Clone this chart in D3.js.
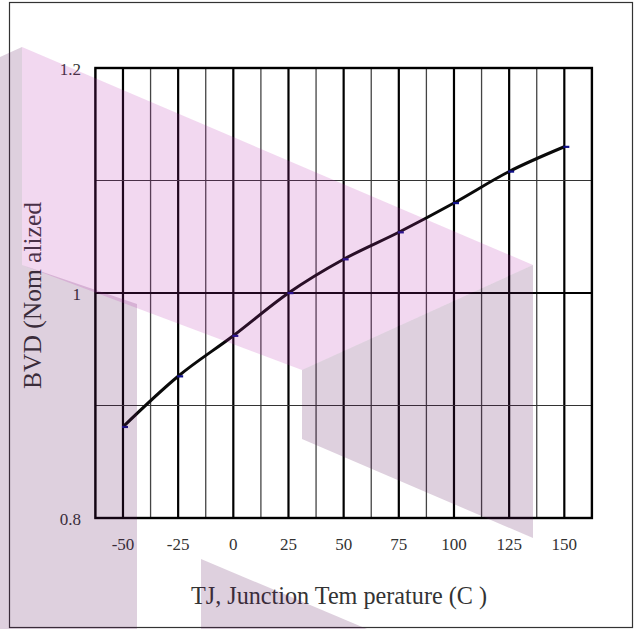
<!DOCTYPE html>
<html lang="en">
<meta charset="utf-8">
<title>BVD vs Junction Temperature</title>
<style>
	body { margin: 0; background: #fff; }
	svg { display: block; font-family: "Liberation Serif", "Times New Roman", serif; }
	.tick-label { fill: #333; font-size: 17px; }
	.axis-title { fill: #333; font-size: 26px; }
</style>
<body>
<script src="https://d3js.org/d3.v7.min.js"></script>
<svg class="chart"></svg>
<script>
	// data
	var temps = [-50, -25, 0, 25, 50, 75, 100, 125, 150];
	var bvd   = [0.881, 0.926, 0.962, 1.000, 1.030, 1.054, 1.080, 1.108, 1.130];
	var xTicks = [-50, -25, 0, 25, 50, 75, 100, 125, 150];
	var yTicks = [0.8, 1, 1.2];
	var yLabels = ["0.8", "1", "1.2"];

	var W = 635, H = 629;
	var svg = d3.select(".chart").attr("width", W).attr("height", H);

	var x = d3.scaleLinear().domain([-62.5, 162.5]).range([95.4, 591.9]);
	var y = d3.scaleLinear().domain([0.8, 1.2]).range([518, 68]);

	// outer border
	svg.append("rect")
		.attr("x", 9.5).attr("y", 2.5)
		.attr("width", 623).attr("height", 625)
		.attr("fill", "none").attr("stroke", "#333").attr("stroke-width", 1.2);

	var grid = svg.append("g");

	// vertical grid, every 12.5 degrees (thick on 25s)
	var vLines = d3.range(-62.5, 162.6, 12.5);
	grid.selectAll(".v")
		.data(vLines)
	  .enter().append("line")
		.attr("x1", function(d) { return x(d); })
		.attr("x2", function(d) { return x(d); })
		.attr("y1", y(1.2)).attr("y2", y(0.8))
		.attr("stroke", function(d) { return d % 25 === 0 ? "#000" : "#444"; })
		.attr("stroke-width", function(d) { return d % 25 === 0 ? 2.2 : 1.3; });

	// horizontal grid
	var hLines = [0.9, 1.0, 1.1];
	grid.selectAll(".h")
		.data(hLines)
	  .enter().append("line")
		.attr("x1", x(-62.5)).attr("x2", x(162.5))
		.attr("y1", function(d) { return y(d); })
		.attr("y2", function(d) { return y(d); })
		.attr("stroke", function(d) { return d === 1.0 ? "#000" : "#333"; })
		.attr("stroke-width", function(d) { return d === 1.0 ? 2.2 : 1.2; });

	// plot frame
	svg.append("rect")
		.attr("x", x(-62.5)).attr("y", y(1.2))
		.attr("width", x(162.5) - x(-62.5)).attr("height", y(0.8) - y(1.2))
		.attr("fill", "none").attr("stroke", "#000").attr("stroke-width", 2.4);

	// tick labels
	svg.selectAll(".xt")
		.data(xTicks)
	  .enter().append("text")
		.attr("class", "tick-label")
		.attr("x", function(d) { return x(d); })
		.attr("y", 550)
		.attr("text-anchor", "middle")
		.text(function(d) { return d; });

	svg.selectAll(".yt")
		.data(yTicks)
	  .enter().append("text")
		.attr("class", "tick-label")
		.attr("x", 81)
		.attr("y", function(d) { return y(d) + 7; })
		.attr("text-anchor", "end")
		.text(function(d, i) { return yLabels[i]; });

	// axis titles
	svg.append("text")
		.attr("class", "axis-title")
		.attr("x", 191).attr("y", 604)
		.attr("textLength", 296).attr("lengthAdjust", "spacingAndGlyphs")
		.text("TJ, Junction Tem perature (C )");

	svg.append("text")
		.attr("class", "axis-title")
		.attr("transform", "translate(40.5,389) rotate(-90)")
		.attr("textLength", 187).attr("lengthAdjust", "spacingAndGlyphs")
		.text("BVD (Nom alized");

	// curve
	var pts = temps.map(function(t, i) { return [t, bvd[i]]; });
	var line = d3.line()
		.x(function(d) { return x(d[0]); })
		.y(function(d) { return y(d[1]); })
		.curve(d3.curveMonotoneX);

	svg.append("path")
		.datum(pts)
		.attr("d", line)
		.attr("fill", "none")
		.attr("stroke", "#0a0a0a")
		.attr("stroke-width", 3);

	svg.selectAll(".mk")
		.data(pts)
	  .enter().append("rect")
		.attr("x", function(d) { return x(d[0]) - 1; })
		.attr("y", function(d) { return y(d[1]) - 1; })
		.attr("width", 6).attr("height", 2.2)
		.attr("fill", "#10108a");

	// watermark logo overlay
	var wm = svg.append("g").style("pointer-events", "none");
	var grayFill = "rgba(90,20,90,0.2)", pinkFill = "rgba(183,38,172,0.18)";
	[
		{ p: [[0,57],[22,47],[22,265],[137,304],[137,629],[0,629]], c: grayFill },
		{ p: [[22,47],[533,265],[302,370],[22,265]], c: pinkFill },
		{ p: [[302,370],[533,265],[533,538],[302,439]], c: grayFill },
		{ p: [[201,559],[367,629],[201,629]], c: grayFill }
	].forEach(function(s) {
		wm.append("polygon")
			.attr("points", s.p.join(" "))
			.attr("fill", s.c);
	});
</script>
</body>
</html>
